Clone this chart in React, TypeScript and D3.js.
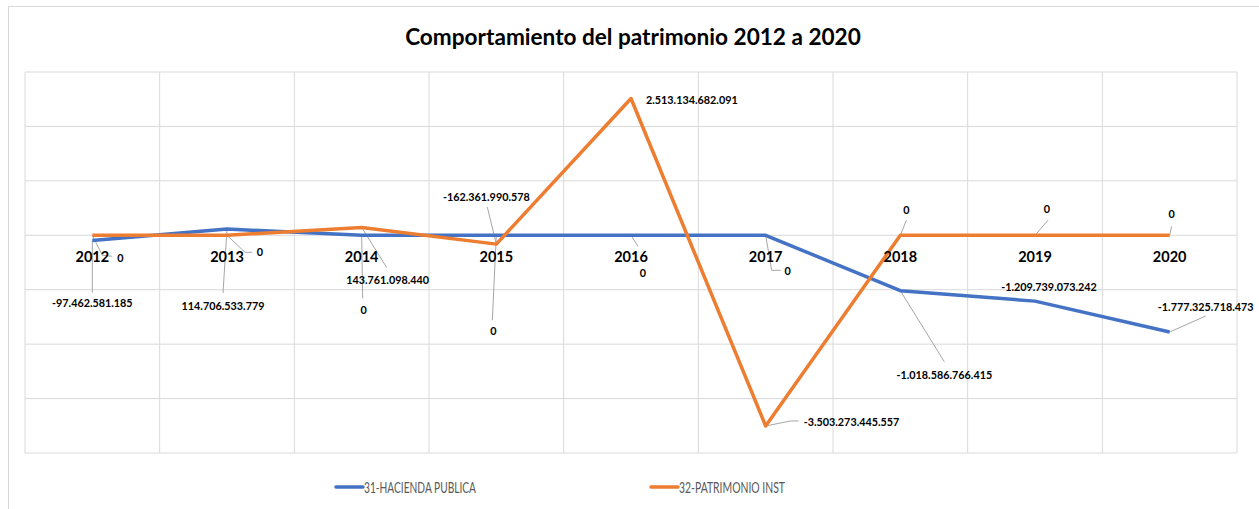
import React from "react";
import * as d3 from "d3";

const years = ["2012", "2013", "2014", "2015", "2016", "2017", "2018", "2019", "2020"];
const hacienda = [-97462581185, 114706533779, 0, 0, 0, 0, -1018586766415, -1209739073242, -1777325718473];
const patrimonio = [0, 0, 143761098440, -162361990578, 2513134682091, -3503273445557, 0, 0, 0];
const yTicks = [3e12, 2e12, 1e12, 0, -1e12, -2e12, -3e12, -4e12];
const seriesNames = ["31-HACIENDA PUBLICA", "32-PATRIMONIO INST"];

// label placement: [dx, dy, anchor, leader points]
type LP = { dx: number; dy: number; a: string; l: number[][] };
const haciendaLabels: LP[] = [
  { dx: 0, dy: 63, a: "middle", l: [[0, 0], [0, 52]] },
  { dx: -4, dy: 77, a: "middle", l: [[0, 0], [-4, 64]] },
  { dx: 2, dy: 75, a: "middle", l: [[0, 0], [1, 63]] },
  { dx: -3, dy: 96, a: "middle", l: [[0, 0], [-4, 85]] },
  { dx: 12, dy: 38, a: "middle", l: [[0, 0], [7, 11]] },
  { dx: 22, dy: 36, a: "middle", l: [[0, 0], [6, 35], [15, 35]] },
  { dx: 44, dy: 84, a: "middle", l: [[0, 0], [44, 71]] },
  { dx: 14, dy: -14, a: "middle", l: [] },
  { dx: 36, dy: -25, a: "middle", l: [[0, 0], [36, -16]] },
];
const patrimonioLabels: LP[] = [
  { dx: 28, dy: 23, a: "middle", l: [[0, 0], [10, 20], [20, 21]] },
  { dx: 33, dy: 17, a: "middle", l: [[0, 0], [18, 17], [25, 17]] },
  { dx: 26, dy: 53, a: "middle", l: [[0, 0], [25, 40]] },
  { dx: -10, dy: -47, a: "middle", l: [[0, 0], [-9, -37]] },
  { dx: 15, dy: 2, a: "start", l: [] },
  { dx: 38, dy: -4, a: "start", l: [[0, 0], [25, -5], [33, -5]] },
  { dx: 6, dy: -25, a: "middle", l: [[0, 0], [6, -15]] },
  { dx: 12, dy: -26, a: "middle", l: [[0, 0], [13, -15]] },
  { dx: 2, dy: -21, a: "middle", l: [[0, 0], [2, -9]] },
];

const W = 1259, H = 509;
const left = 25, right = 1237, top = 72, bottom = 453;
const colors = ["#4472C4", "#ED7D31"];
const FONT = "Lato, Carlito, sans-serif";

const loc = d3.formatLocale({ decimal: ",", thousands: ".", grouping: [3], currency: ["$", ""], minus: "-" });
const fmt = loc.format(",d");

export default function App() {
  const x = d3.scaleBand().domain(years).range([left, right]).padding(0);
  const y = d3.scaleLinear().domain([-4e12, 3e12]).range([bottom, top]);
  const cx = (d: string) => (x(d) as number) + x.bandwidth() / 2;
  const line = d3.line<number>().x((_, i) => cx(years[i])).y((v) => y(v));
  const series = [hacienda, patrimonio];
  const labels = [haciendaLabels, patrimonioLabels];
  const bounds = years.map((d) => x(d) as number).concat([right]);

  return (
    <svg width={W} height={H} style={{ position: "absolute", left: 0, top: 0, background: "#fff" }} fontFamily={FONT}>
      <rect x={8.5} y={6.5} width={1300} height={600} fill="#fff" stroke="#d9d9d9" />
      <text x={633} y={45} textAnchor="middle" fontSize={22.6} fontWeight="bold" fill="#000">
        Comportamiento del patrimonio 2012 a 2020
      </text>
      {yTicks.map((t) => (
        <line key={"h" + t} x1={left} x2={right} y1={y(t)} y2={y(t)} stroke="#d9d9d9" strokeWidth={1} />
      ))}
      {bounds.map((b, i) => (
        <line key={"v" + i} x1={b} x2={b} y1={top} y2={bottom} stroke="#d9d9d9" strokeWidth={1} />
      ))}
      {series.map((s, si) =>
        labels[si].map((lp, i) =>
          lp.l.length ? (
            <polyline
              key={"ld" + si + i}
              points={lp.l.map((p) => `${cx(years[i]) + p[0]},${y(s[i]) + p[1]}`).join(" ")}
              fill="none"
              stroke="#a6a6a6"
              strokeWidth={1}
            />
          ) : null
        )
      )}
      {series.map((s, si) => (
        <path key={"s" + si} d={line(s) as string} fill="none" stroke={colors[si]} strokeWidth={3.5} strokeLinejoin="round" />
      ))}
      {years.map((d) => (
        <text key={"c" + d} x={cx(d)} y={262} textAnchor="middle" fontSize={14.5} fontWeight="bold" fill="#000">
          {d}
        </text>
      ))}
      {series.map((s, si) =>
        labels[si].map((lp, i) => (
          <text
            key={"lb" + si + i}
            x={cx(years[i]) + lp.dx}
            y={y(s[i]) + lp.dy}
            dy="0.35em"
            textAnchor={lp.a}
            fontSize={10.8}
            fontWeight="bold"
            fill="#000"
          >
            {fmt(s[i])}
          </text>
        ))
      )}
      {seriesNames.map((n, i) => {
        const lx = i === 0 ? 336 : 651;
        return (
          <g key={"lg" + i}>
            <line x1={lx} x2={lx + 27} y1={487} y2={487} stroke={colors[i]} strokeWidth={3.5} strokeLinecap="round" />
            <text
              x={lx + 28}
              y={488}
              dy="0.35em"
              fontSize={15}
              fill="#595959"
              textLength={i === 0 ? 112 : 106}
              lengthAdjust="spacingAndGlyphs"
            >
              {n}
            </text>
          </g>
        );
      })}
    </svg>
  );
}
